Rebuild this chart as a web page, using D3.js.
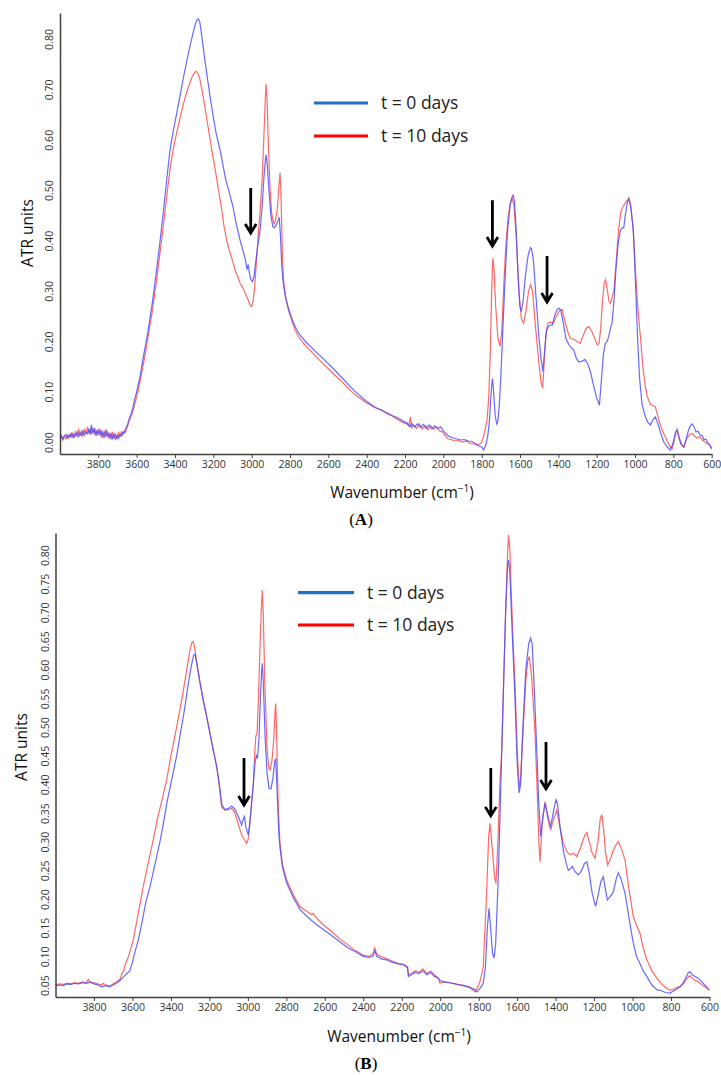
<!DOCTYPE html>
<html><head><meta charset="utf-8">
<script src="https://cdn.jsdelivr.net/npm/d3@7"></script>
<style>body{margin:0;background:#fff}svg{display:block}</style>
</head><body>
<svg id="c" width="721" height="1075"></svg>
<script>
// ---------- DATA ----------
const xTicks = [3800,3600,3400,3200,3000,2800,2600,2400,2200,2000,1800,1600,1400,1200,1000,800,600];
const yTicksA = [0.00,0.10,0.20,0.30,0.40,0.50,0.60,0.70,0.80];
const yTicksB = [0.05,0.10,0.15,0.20,0.25,0.30,0.35,0.40,0.45,0.50,0.55,0.60,0.65,0.70,0.75,0.80];
const seriesNames = ["t = 0 days","t = 10 days"];
const panelTags = ["A","B"];

// Panel A, t = 0 days  [wavenumber, ATR]
const specA0 = [[4000,0.008],[3992,0.013],[3985,0.006],[3978,0.011],[3970,0.015],[3962,0.008],[3955,0.013],[3948,0.01],[3940,0.017],[3932,0.009],[3925,0.015],[3918,0.012],[3910,0.02],[3902,0.011],[3895,0.018],[3888,0.013],[3880,0.022],[3872,0.014],[3865,0.02],[3858,0.016],[3850,0.025],[3843,0.015],[3836,0.034],[3830,0.017],[3822,0.026],[3815,0.013],[3808,0.022],[3800,0.016],[3792,0.024],[3785,0.012],[3778,0.02],[3770,0.01],[3762,0.022],[3755,0.012],[3748,0.017],[3740,0.008],[3732,0.016],[3725,0.007],[3718,0.015],[3710,0.006],[3702,0.013],[3695,0.008],[3688,0.016],[3680,0.012],[3672,0.02],[3665,0.018],[3658,0.026],[3650,0.032],[3640,0.045],[3630,0.055],[3620,0.068],[3610,0.085],[3600,0.1],[3590,0.117],[3580,0.135],[3570,0.158],[3560,0.18],[3550,0.2],[3540,0.222],[3520,0.272],[3500,0.33],[3480,0.392],[3460,0.46],[3440,0.532],[3426,0.58],[3410,0.615],[3390,0.655],[3370,0.695],[3350,0.735],[3330,0.772],[3310,0.805],[3295,0.828],[3285,0.838],[3278,0.84],[3270,0.832],[3260,0.805],[3245,0.76],[3230,0.72],[3215,0.68],[3200,0.645],[3185,0.612],[3165,0.58],[3150,0.55],[3135,0.52],[3120,0.5],[3097,0.466],[3080,0.432],[3060,0.4],[3045,0.38],[3032,0.36],[3024,0.342],[3018,0.352],[3012,0.336],[3004,0.322],[2996,0.318],[2988,0.328],[2978,0.36],[2968,0.39],[2956,0.42],[2946,0.465],[2936,0.525],[2928,0.562],[2924,0.57],[2918,0.548],[2910,0.5],[2900,0.45],[2890,0.428],[2883,0.425],[2872,0.43],[2862,0.44],[2856,0.446],[2850,0.41],[2843,0.35],[2836,0.318],[2825,0.29],[2810,0.268],[2795,0.25],[2780,0.235],[2764,0.222],[2745,0.211],[2725,0.202],[2705,0.194],[2685,0.187],[2665,0.179],[2645,0.172],[2625,0.165],[2605,0.157],[2585,0.15],[2565,0.142],[2545,0.134],[2525,0.126],[2505,0.118],[2485,0.11],[2465,0.102],[2445,0.095],[2425,0.089],[2405,0.082],[2385,0.077],[2365,0.071],[2345,0.067],[2325,0.064],[2305,0.06],[2285,0.056],[2265,0.052],[2245,0.049],[2225,0.045],[2205,0.04],[2190,0.038],[2175,0.03],[2165,0.037],[2150,0.03],[2135,0.036],[2120,0.029],[2105,0.035],[2090,0.027],[2075,0.034],[2060,0.026],[2045,0.032],[2030,0.027],[2015,0.03],[2000,0.022],[1985,0.016],[1970,0.011],[1950,0.008],[1930,0.006],[1910,0.004],[1890,0.005],[1870,0.002],[1850,0.001],[1830,-0.004],[1815,-0.008],[1800,-0.01],[1790,-0.016],[1780,-0.008],[1769,0.01],[1760,0.04],[1752,0.09],[1746,0.12],[1743,0.126],[1738,0.1],[1730,0.055],[1722,0.036],[1716,0.04],[1708,0.075],[1700,0.13],[1690,0.22],[1676,0.341],[1665,0.42],[1652,0.468],[1642,0.486],[1636,0.49],[1629,0.478],[1620,0.42],[1610,0.33],[1601,0.27],[1594,0.259],[1585,0.276],[1572,0.33],[1558,0.37],[1546,0.386],[1540,0.384],[1530,0.36],[1516,0.285],[1502,0.21],[1490,0.165],[1481,0.14],[1472,0.18],[1462,0.22],[1453,0.229],[1442,0.232],[1432,0.232],[1420,0.25],[1408,0.262],[1398,0.266],[1388,0.262],[1375,0.238],[1360,0.205],[1345,0.193],[1330,0.186],[1320,0.183],[1306,0.166],[1294,0.159],[1278,0.16],[1262,0.164],[1248,0.156],[1233,0.14],[1218,0.115],[1202,0.09],[1186,0.073],[1176,0.12],[1165,0.175],[1155,0.196],[1145,0.2],[1137,0.21],[1128,0.226],[1120,0.236],[1110,0.28],[1100,0.34],[1088,0.395],[1076,0.42],[1067,0.425],[1059,0.425],[1050,0.452],[1040,0.476],[1032,0.482],[1022,0.465],[1010,0.425],[1003,0.37],[995,0.29],[986,0.2],[976,0.125],[964,0.077],[950,0.055],[935,0.04],[920,0.034],[905,0.045],[894,0.05],[880,0.036],[865,0.016],[850,0.0],[832,-0.01],[815,-0.016],[800,0.0],[790,0.018],[780,0.025],[770,0.01],[758,-0.005],[745,-0.01],[733,0.006],[720,0.025],[710,0.033],[702,0.036],[692,0.03],[682,0.02],[672,0.022],[660,0.014],[650,0.013],[640,0.004],[630,0.006],[620,-0.002],[610,-0.006],[600,-0.014]];

// Panel A, t = 10 days
const specA10 = [[4000,0.005],[3992,0.01],[3985,0.004],[3978,0.012],[3970,0.006],[3962,0.014],[3955,0.008],[3948,0.016],[3940,0.01],[3932,0.018],[3925,0.008],[3918,0.02],[3910,0.012],[3902,0.024],[3895,0.014],[3888,0.022],[3880,0.012],[3872,0.026],[3865,0.016],[3858,0.028],[3850,0.018],[3843,0.025],[3836,0.015],[3830,0.028],[3822,0.018],[3815,0.024],[3808,0.012],[3800,0.026],[3792,0.015],[3785,0.022],[3778,0.008],[3770,0.02],[3762,0.01],[3755,0.024],[3748,0.01],[3740,0.018],[3732,0.005],[3725,0.02],[3718,0.008],[3710,0.016],[3702,0.006],[3695,0.018],[3688,0.01],[3680,0.02],[3672,0.014],[3665,0.022],[3658,0.02],[3650,0.028],[3640,0.04],[3630,0.05],[3620,0.061],[3610,0.075],[3600,0.09],[3590,0.106],[3580,0.125],[3570,0.145],[3560,0.165],[3550,0.186],[3540,0.21],[3520,0.256],[3500,0.31],[3480,0.37],[3460,0.432],[3440,0.498],[3425,0.545],[3410,0.58],[3390,0.616],[3370,0.65],[3350,0.68],[3330,0.705],[3312,0.724],[3298,0.733],[3288,0.736],[3280,0.732],[3270,0.72],[3258,0.696],[3242,0.66],[3225,0.62],[3208,0.58],[3190,0.54],[3175,0.505],[3160,0.47],[3145,0.43],[3130,0.4],[3115,0.378],[3100,0.36],[3085,0.34],[3070,0.325],[3060,0.315],[3045,0.305],[3030,0.292],[3018,0.282],[3008,0.272],[3000,0.269],[2992,0.28],[2984,0.31],[2975,0.36],[2965,0.415],[2955,0.465],[2945,0.525],[2937,0.6],[2930,0.67],[2925,0.71],[2920,0.685],[2913,0.59],[2905,0.51],[2896,0.455],[2888,0.438],[2883,0.433],[2876,0.44],[2867,0.46],[2858,0.505],[2852,0.535],[2847,0.49],[2841,0.39],[2834,0.322],[2822,0.285],[2808,0.262],[2790,0.24],[2773,0.222],[2750,0.206],[2730,0.196],[2710,0.188],[2690,0.18],[2670,0.172],[2650,0.164],[2630,0.156],[2610,0.149],[2590,0.142],[2570,0.134],[2550,0.127],[2530,0.12],[2510,0.112],[2490,0.104],[2470,0.097],[2450,0.091],[2430,0.086],[2410,0.08],[2390,0.075],[2370,0.071],[2350,0.067],[2330,0.064],[2310,0.06],[2290,0.055],[2270,0.052],[2250,0.047],[2230,0.043],[2210,0.039],[2192,0.036],[2180,0.033],[2172,0.05],[2166,0.028],[2155,0.034],[2140,0.027],[2125,0.036],[2110,0.026],[2095,0.033],[2080,0.024],[2065,0.032],[2050,0.025],[2035,0.03],[2020,0.022],[2005,0.02],[1990,0.012],[1975,0.006],[1960,0.005],[1940,0.002],[1920,0.003],[1900,0.0],[1880,0.002],[1860,-0.003],[1840,-0.004],[1820,-0.006],[1805,-0.003],[1795,0.005],[1785,0.02],[1772,0.044],[1763,0.09],[1755,0.18],[1748,0.3],[1742,0.365],[1736,0.345],[1727,0.27],[1715,0.205],[1704,0.19],[1696,0.215],[1686,0.3],[1675,0.385],[1662,0.448],[1650,0.476],[1641,0.484],[1632,0.47],[1620,0.41],[1606,0.3],[1593,0.245],[1581,0.236],[1570,0.258],[1556,0.298],[1545,0.312],[1535,0.3],[1520,0.232],[1505,0.17],[1491,0.12],[1482,0.107],[1475,0.15],[1466,0.21],[1455,0.236],[1442,0.238],[1425,0.236],[1410,0.25],[1395,0.26],[1381,0.263],[1366,0.24],[1350,0.218],[1337,0.206],[1322,0.204],[1311,0.202],[1298,0.198],[1285,0.196],[1270,0.212],[1255,0.226],[1242,0.229],[1226,0.22],[1210,0.205],[1196,0.193],[1188,0.195],[1179,0.225],[1170,0.28],[1161,0.315],[1154,0.322],[1146,0.305],[1136,0.28],[1128,0.275],[1118,0.29],[1110,0.3],[1100,0.35],[1086,0.42],[1075,0.455],[1067,0.464],[1058,0.47],[1048,0.476],[1040,0.48],[1032,0.485],[1022,0.47],[1008,0.415],[998,0.34],[986,0.27],[972,0.209],[958,0.145],[946,0.11],[936,0.09],[920,0.075],[906,0.072],[894,0.07],[880,0.05],[865,0.03],[850,0.017],[830,0.0],[815,-0.01],[806,-0.013],[795,0.005],[786,0.02],[779,0.02],[770,0.006],[760,-0.005],[746,-0.01],[731,0.006],[716,0.015],[702,0.017],[690,0.012],[676,0.008],[662,0.011],[648,0.003],[636,0.0],[622,-0.004],[610,-0.006],[600,-0.012]];

// Panel B, t = 0 days
const specB0 = [[4000,0.048],[3980,0.05],[3960,0.049],[3940,0.052],[3920,0.051],[3900,0.053],[3880,0.052],[3860,0.054],[3840,0.053],[3820,0.055],[3800,0.052],[3780,0.05],[3760,0.047],[3740,0.049],[3720,0.047],[3700,0.05],[3680,0.054],[3665,0.058],[3650,0.063],[3635,0.068],[3613,0.075],[3600,0.09],[3585,0.11],[3570,0.128],[3550,0.16],[3530,0.195],[3509,0.221],[3490,0.25],[3470,0.28],[3457,0.3],[3440,0.33],[3420,0.37],[3396,0.408],[3370,0.45],[3350,0.49],[3327,0.535],[3310,0.575],[3295,0.605],[3282,0.625],[3275,0.627],[3265,0.61],[3250,0.58],[3232,0.547],[3215,0.52],[3197,0.489],[3180,0.46],[3162,0.431],[3148,0.4],[3136,0.365],[3120,0.356],[3100,0.358],[3084,0.362],[3070,0.358],[3058,0.35],[3045,0.34],[3032,0.329],[3024,0.34],[3018,0.344],[3010,0.325],[2998,0.312],[2990,0.33],[2980,0.37],[2972,0.4],[2962,0.44],[2955,0.45],[2950,0.445],[2942,0.48],[2935,0.55],[2928,0.6],[2925,0.611],[2920,0.58],[2910,0.48],[2900,0.42],[2890,0.393],[2880,0.392],[2870,0.41],[2860,0.44],[2855,0.445],[2848,0.39],[2840,0.32],[2833,0.29],[2820,0.255],[2798,0.228],[2760,0.2],[2729,0.182],[2700,0.172],[2660,0.16],[2630,0.152],[2600,0.145],[2560,0.135],[2520,0.125],[2480,0.115],[2440,0.108],[2400,0.1],[2370,0.098],[2350,0.1],[2340,0.11],[2330,0.1],[2310,0.096],[2280,0.094],[2250,0.09],[2220,0.087],[2190,0.085],[2170,0.08],[2165,0.065],[2150,0.068],[2130,0.072],[2110,0.07],[2090,0.075],[2070,0.068],[2050,0.072],[2030,0.065],[2010,0.062],[2000,0.058],[1980,0.055],[1950,0.054],[1920,0.052],[1900,0.05],[1870,0.048],[1840,0.045],[1820,0.042],[1810,0.038],[1790,0.045],[1776,0.053],[1765,0.08],[1755,0.15],[1746,0.184],[1738,0.15],[1728,0.105],[1720,0.097],[1712,0.12],[1700,0.22],[1689,0.344],[1675,0.52],[1660,0.7],[1650,0.78],[1645,0.791],[1638,0.77],[1630,0.7],[1620,0.62],[1611,0.547],[1600,0.44],[1590,0.385],[1582,0.4],[1570,0.5],[1555,0.6],[1540,0.645],[1530,0.655],[1522,0.645],[1510,0.56],[1498,0.46],[1488,0.37],[1478,0.309],[1468,0.34],[1455,0.367],[1440,0.345],[1426,0.326],[1410,0.355],[1398,0.373],[1390,0.365],[1375,0.32],[1360,0.285],[1345,0.262],[1334,0.25],[1322,0.253],[1313,0.257],[1300,0.248],[1282,0.242],[1265,0.25],[1250,0.262],[1238,0.265],[1225,0.245],[1210,0.21],[1192,0.187],[1180,0.205],[1165,0.23],[1152,0.239],[1140,0.215],[1131,0.198],[1115,0.205],[1100,0.212],[1085,0.235],[1074,0.246],[1060,0.235],[1039,0.21],[1020,0.17],[1005,0.14],[996,0.123],[980,0.1],[961,0.087],[945,0.075],[926,0.065],[900,0.05],[874,0.042],[850,0.04],[830,0.037],[805,0.036],[785,0.04],[770,0.043],[753,0.047],[735,0.055],[720,0.065],[710,0.072],[701,0.073],[690,0.068],[675,0.065],[660,0.062],[649,0.059],[630,0.052],[615,0.047],[606,0.0425],[600,0.042]];

// Panel B, t = 10 days
const specB10 = [[4000,0.05],[3980,0.052],[3960,0.051],[3940,0.053],[3920,0.052],[3900,0.054],[3880,0.053],[3860,0.055],[3840,0.054],[3830,0.06],[3820,0.055],[3800,0.054],[3780,0.052],[3760,0.05],[3752,0.053],[3740,0.05],[3720,0.048],[3700,0.052],[3680,0.056],[3665,0.06],[3655,0.07],[3645,0.075],[3639,0.085],[3620,0.1],[3596,0.128],[3570,0.175],[3544,0.221],[3520,0.26],[3492,0.303],[3470,0.34],[3445,0.375],[3422,0.408],[3400,0.45],[3370,0.5],[3344,0.547],[3320,0.595],[3301,0.634],[3290,0.648],[3284,0.649],[3275,0.635],[3260,0.6],[3245,0.57],[3232,0.547],[3215,0.52],[3197,0.489],[3180,0.46],[3162,0.431],[3148,0.395],[3136,0.36],[3119,0.355],[3100,0.356],[3084,0.358],[3070,0.352],[3058,0.34],[3045,0.325],[3030,0.31],[3015,0.302],[3006,0.297],[2998,0.305],[2985,0.35],[2972,0.396],[2965,0.45],[2959,0.483],[2952,0.49],[2945,0.55],[2935,0.66],[2928,0.72],[2925,0.739],[2920,0.7],[2912,0.58],[2900,0.46],[2890,0.428],[2885,0.425],[2875,0.44],[2865,0.48],[2858,0.53],[2855,0.541],[2850,0.48],[2842,0.36],[2833,0.297],[2820,0.26],[2798,0.233],[2760,0.205],[2729,0.187],[2700,0.18],[2670,0.173],[2660,0.175],[2650,0.17],[2630,0.162],[2600,0.153],[2560,0.142],[2520,0.13],[2480,0.12],[2440,0.11],[2400,0.102],[2370,0.1],[2350,0.104],[2340,0.115],[2330,0.104],[2310,0.1],[2280,0.096],[2250,0.092],[2220,0.088],[2190,0.086],[2170,0.082],[2165,0.068],[2150,0.07],[2130,0.075],[2110,0.072],[2090,0.078],[2070,0.07],[2050,0.074],[2030,0.068],[2010,0.062],[2001,0.053],[1980,0.056],[1950,0.054],[1914,0.051],[1880,0.05],[1850,0.047],[1819,0.038],[1800,0.05],[1790,0.06],[1776,0.082],[1760,0.2],[1748,0.31],[1741,0.332],[1730,0.29],[1718,0.24],[1710,0.227],[1700,0.3],[1690,0.4],[1680,0.46],[1670,0.58],[1660,0.7],[1650,0.8],[1645,0.835],[1638,0.81],[1630,0.73],[1620,0.64],[1611,0.576],[1600,0.46],[1590,0.396],[1582,0.41],[1570,0.49],[1555,0.58],[1545,0.615],[1537,0.623],[1525,0.59],[1507,0.489],[1495,0.38],[1487,0.3],[1481,0.265],[1470,0.33],[1455,0.37],[1440,0.34],[1426,0.32],[1410,0.34],[1394,0.355],[1380,0.33],[1360,0.297],[1340,0.282],[1325,0.277],[1308,0.28],[1290,0.274],[1270,0.29],[1250,0.31],[1238,0.316],[1225,0.3],[1210,0.28],[1195,0.271],[1180,0.3],[1168,0.34],[1160,0.347],[1150,0.32],[1140,0.28],[1129,0.259],[1115,0.27],[1100,0.285],[1085,0.295],[1074,0.3],[1060,0.29],[1039,0.268],[1020,0.22],[996,0.169],[980,0.155],[961,0.14],[945,0.115],[926,0.094],[900,0.075],[874,0.062],[850,0.052],[825,0.045],[805,0.041],[785,0.043],[770,0.046],[753,0.047],[735,0.052],[720,0.06],[710,0.064],[701,0.066],[690,0.062],[675,0.058],[660,0.056],[649,0.053],[630,0.048],[615,0.045],[606,0.0425],[600,0.041]];

// Arrow annotations: [wavenumber, start value, tip value]
const arrowsA = [[3005,0.504,0.415],[1744,0.480,0.389],[1459,0.369,0.278]];
const arrowsB = [[3020,0.446,0.364],[1737,0.4285,0.345],[1450,0.474,0.392]];

// ---------- DRAWING ----------
const svg = d3.select("#c");
const FONT = "'Open Sans', 'DejaVu Sans', sans-serif";
const colors = {blue:"#4d4dff", red:"#ff4d4d", legBlue:"#1f6fc4", legRed:"#ff0000", axis:"#404040"};

function drawPanel(p, i) {
  const x = d3.scaleLinear().domain([4000, 600]).range([p.left, p.right]);
  const y = d3.scaleLinear().domain(p.yDomain).range([p.bottom, p.top]);
  const g = svg.append("g");
  const cid = "clip" + i;
  g.append("clipPath").attr("id", cid).append("rect")
    .attr("x", p.left).attr("y", p.top - 10).attr("width", p.right - p.left + 2).attr("height", p.bottom - p.top + 10);

  const line = d3.line().x(d => x(d[0])).y(d => y(d[1]));
  const cg = g.append("g").attr("clip-path", `url(#${cid})`);
  cg.append("path").datum(p.s10).attr("d", line).attr("fill", "none")
    .attr("stroke", colors.red).attr("stroke-width", 1.2).attr("stroke-opacity", 0.85);
  cg.append("path").datum(p.s0).attr("d", line).attr("fill", "none")
    .attr("stroke", colors.blue).attr("stroke-width", 1.2).attr("stroke-opacity", 0.85);

  // x axis
  const xa = g.append("g").attr("transform", `translate(0,${p.bottom})`)
    .call(d3.axisBottom(x).tickValues(xTicks).tickSize(4).tickSizeOuter(0).tickPadding(3).tickFormat(d3.format("d")));
  xa.select(".domain").attr("stroke", colors.axis).attr("stroke-width", 1.5);
  xa.selectAll(".tick line").attr("stroke", colors.axis);
  xa.selectAll("text").attr("font-family", FONT).attr("font-size", 10.5).attr("fill", "#333");

  // y axis
  const ya = g.append("g").attr("transform", `translate(${p.left},0)`)
    .call(d3.axisLeft(y).tickValues(p.yTicks).tickSize(0).tickSizeOuter(0).tickFormat(d3.format(".2f")));
  ya.select(".domain").attr("stroke", colors.axis).attr("stroke-width", 1.5);
  ya.selectAll("text").attr("font-family", FONT).attr("font-size", 10.5).attr("fill", "#333")
    .attr("transform", "rotate(-90)").attr("text-anchor", "middle")
    .attr("x", 0).attr("dy", null).attr("y", -p.yLabGap);

  // y title
  g.append("text").attr("transform", `translate(${p.yTitleX},${p.yTitleY}) rotate(-90)`)
    .attr("text-anchor", "middle").attr("font-family", FONT).attr("font-size", 15.5).attr("fill", "#111")
    .text("ATR units");

  // x title
  const xt = g.append("text").attr("x", p.xTitleX).attr("y", p.xTitleY)
    .attr("text-anchor", "middle").attr("font-family", FONT).attr("font-size", 15.5).attr("fill", "#111");
  xt.append("tspan").text("Wavenumber (cm");
  xt.append("tspan").attr("font-size", 10).attr("dy", -6).text("\u22121");
  xt.append("tspan").attr("dy", 6).text(")");

  // tag
  const tg = g.append("text").attr("x", p.tagX).attr("y", p.tagY).attr("text-anchor", "middle")
    .attr("font-family", "'Liberation Serif', 'DejaVu Serif', serif").attr("font-size", 17).attr("fill", "#000");
  tg.append("tspan").text("(");
  tg.append("tspan").attr("font-weight", "bold").text(panelTags[i]);
  tg.append("tspan").text(")");

  // legend
  const leg = [[colors.legBlue, seriesNames[0], p.legY0], [colors.legRed, seriesNames[1], p.legY1]];
  leg.forEach(([c, t, ly]) => {
    g.append("line").attr("x1", p.legX0).attr("x2", p.legX1).attr("y1", ly).attr("y2", ly)
      .attr("stroke", c).attr("stroke-width", 3.2);
    g.append("text").attr("x", p.legTX).attr("y", ly + 6).attr("font-family", FONT)
      .attr("font-size", 17.5).attr("fill", "#222").text(t);
  });

  // arrows
  p.arrows.forEach(([w, v0, v1]) => {
    const ax = x(w), y0 = y(v0), y1 = y(v1);
    g.append("path")
      .attr("d", `M${ax},${y0}L${ax},${y1 - 1}M${ax - 5.5},${y1 - 9}L${ax},${y1}L${ax + 5.5},${y1 - 9}`)
      .attr("fill", "none").attr("stroke", "#000").attr("stroke-width", 2.8).attr("stroke-linejoin", "miter");
  });
}

const panels = [
  {left:60, right:711.7, top:13, bottom:454, yDomain:[-0.0238, 0.8516], yTicks:yTicksA, s0:specA0, s10:specA10,
   yLabGap:7, yTitleX:33, yTitleY:233, xTitleX:402, xTitleY:498, tagX:361, tagY:525,
   legX0:314, legX1:368, legY0:103, legY1:136, legTX:381, arrows:arrowsA},
  {left:55.5, right:709.5, top:533, bottom:997, yDomain:[0.0291, 0.8384], yTicks:yTicksB, s0:specB0, s10:specB10,
   yLabGap:7, yTitleX:27, yTitleY:747, xTitleX:399, xTitleY:1042, tagX:366, tagY:1069,
   legX0:298, legX1:354, legY0:592.7, legY1:625, legTX:367, arrows:arrowsB}
];
panels.forEach(drawPanel);
</script>
</body></html>
